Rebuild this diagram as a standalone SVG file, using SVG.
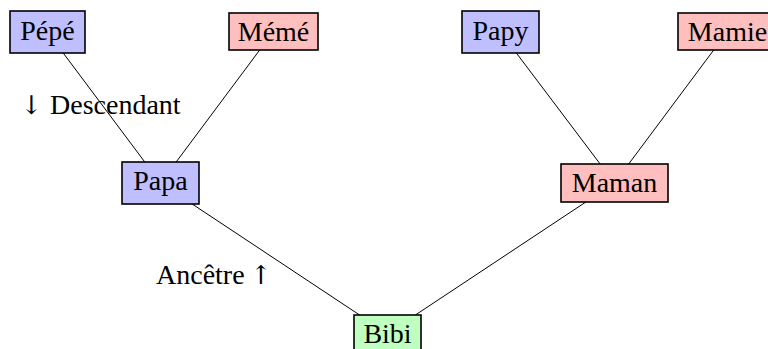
<svg xmlns="http://www.w3.org/2000/svg" width="768" height="349" viewBox="0 0 768 349">
<style>
  .edge { stroke: #000; stroke-width: 1; fill: none; }
  .box { stroke: #000; stroke-width: 1.6; }
  .blue { fill: #bfbfff; }
  .red { fill: #ffbfbf; }
  .green { fill: #bfffbf; }
  text { font-family: "Liberation Serif", "DejaVu Serif", serif; font-size: 28px; fill: #000; }
  .lbl { text-anchor: middle; }
  .arrow { font-family: "DejaVu Serif", "DejaVu Sans", serif; font-size: 26px; text-anchor: middle; }
</style>
<rect width="768" height="349" fill="#fff"/>
<g id="connectors">
  <line class="edge" x1="47.5" y1="32" x2="160.5" y2="183"/>
  <line class="edge" x1="273.5" y1="31.5" x2="160.5" y2="183"/>
  <line class="edge" x1="500.5" y1="32" x2="614.5" y2="183"/>
  <line class="edge" x1="727.5" y1="31.5" x2="614.5" y2="183"/>
  <line class="edge" x1="160.5" y1="183" x2="387.5" y2="333.5"/>
  <line class="edge" x1="614.5" y1="183" x2="387.5" y2="333.5"/>
</g>
<g id="node-pepe">
  <rect class="box blue" x="10" y="11" width="75" height="42"/>
  <text class="lbl" x="47.5" y="39.5">Pépé</text>
</g>
<g id="node-meme">
  <rect class="box red" x="229" y="13" width="89" height="37"/>
  <text class="lbl" x="273.5" y="40.7">Mémé</text>
</g>
<g id="node-papy">
  <rect class="box blue" x="462" y="11" width="77" height="42"/>
  <text class="lbl" x="500.5" y="39.5">Papy</text>
</g>
<g id="node-mamie">
  <rect class="box red" x="678" y="13" width="99" height="37"/>
  <text class="lbl" x="727.5" y="40.7">Mamie</text>
</g>
<g id="node-papa">
  <rect class="box blue" x="122" y="162" width="77" height="42"/>
  <text class="lbl" x="160.5" y="190">Papa</text>
</g>
<g id="node-maman">
  <rect class="box red" x="561" y="164" width="107" height="38"/>
  <text class="lbl" x="614.5" y="191.7">Maman</text>
</g>
<g id="node-bibi">
  <rect class="box green" x="354" y="315" width="67" height="37"/>
  <text class="lbl" x="387.5" y="343.3">Bibi</text>
</g>
<g id="labels">
  <text class="arrow" x="31.5" y="114.3">↓</text>
  <text x="50" y="114.3">Descendant</text>
  <text x="156" y="284">Ancêtre</text>
  <text class="arrow" x="261" y="284">↑</text>
</g>
</svg>
